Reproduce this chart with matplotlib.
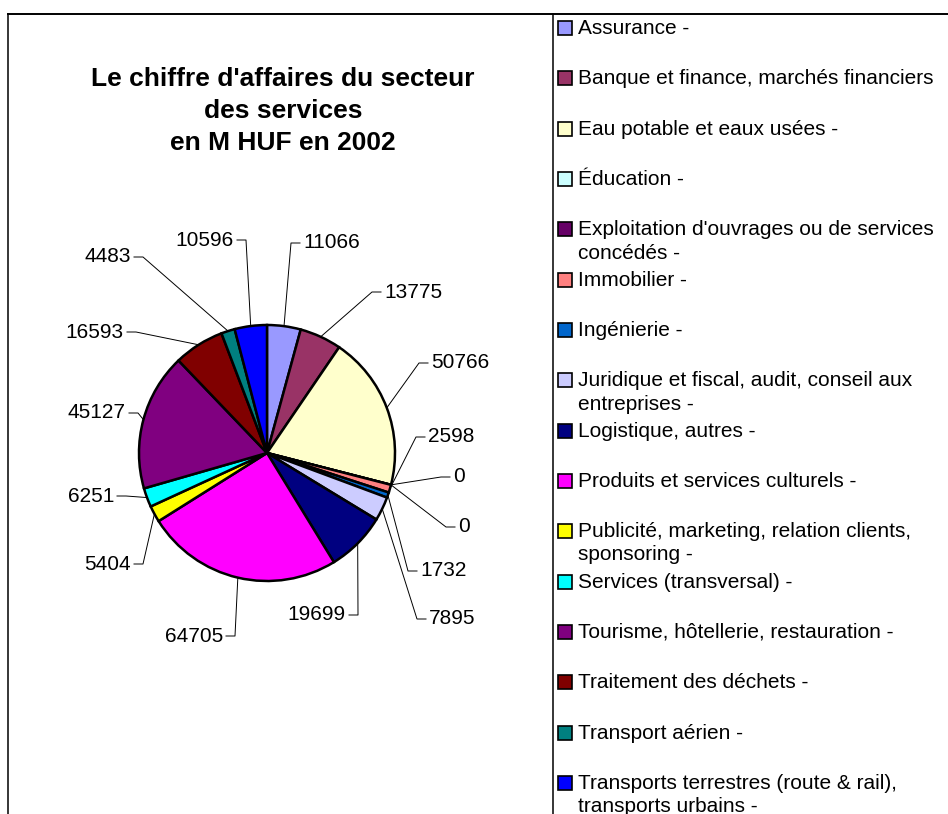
import numpy as np
import matplotlib.pyplot as plt
from matplotlib.patches import Rectangle

# === données ===
categories = [
    "Assurance -",
    "Banque et finance, marchés financiers",
    "Eau potable et eaux usées -",
    "Éducation -",
    "Exploitation d'ouvrages ou de services\nconcédés -",
    "Immobilier -",
    "Ingénierie -",
    "Juridique et fiscal, audit, conseil aux\nentreprises -",
    "Logistique, autres -",
    "Produits et services culturels -",
    "Publicité, marketing, relation clients,\nsponsoring -",
    "Services (transversal) -",
    "Tourisme, hôtellerie, restauration -",
    "Traitement des déchets -",
    "Transport aérien -",
    "Transports terrestres (route & rail),\ntransports urbains -",
]
values = [11066, 13775, 50766, 0, 0, 2598, 1732, 7895,
          19699, 64705, 5404, 6251, 45127, 16593, 4483, 10596]
colors = ["#9999FF", "#993366", "#FFFFCC", "#CCFFFF", "#660066", "#FF8080",
          "#0066CC", "#CCCCFF", "#000080", "#FF00FF", "#FFFF00", "#00FFFF",
          "#800080", "#800000", "#008080", "#0000FF"]
title = "Le chiffre d'affaires du secteur\ndes services\nen M HUF en 2002"

# position des étiquettes (pixels) : x du bord du texte, y, côté
label_pos = [(303, 243, "l"), (384, 292, "l"), (431, 363, "l"), (453, 477, "l"),
             (458, 527, "l"), (428, 437, "l"), (420, 571, "l"), (429, 619, "l"),
             (346, 615, "r"), (223, 636, "r"), (131, 564, "r"), (114, 496, "r"),
             (126, 413, "r"), (124, 332, "r"), (131, 257, "r"), (234, 240, "r")]

W, H = 948, 814
cx, cy, R = 267, 453, 128

plt.rcParams['font.family'] = ['Liberation Sans', 'DejaVu Sans']
fig = plt.figure(figsize=(W / 100, H / 100), dpi=100)

# === camembert ===
half = 150
pax = fig.add_axes([(cx - half) / W, (H - cy - half) / H, 2 * half / W, 2 * half / H])
pax.pie(values, colors=colors, startangle=90, counterclock=False, radius=1,
        wedgeprops=dict(edgecolor="black", linewidth=1.8))
pax.set_xlim(-half / R, half / R)
pax.set_ylim(-half / R, half / R)
pax.axis("off")

# === calque en pixels ===
ov = fig.add_axes([0, 0, 1, 1], zorder=3)
ov.set_xlim(0, W)
ov.set_ylim(H, 0)
ov.axis("off")

# cadre
ov.plot([8, W], [14, 14], color="black", lw=1.4)
ov.plot([8, 8], [14, H], color="black", lw=1.1)
ov.plot([553, 553], [14, H], color="black", lw=1.1)

ov.text(283, 111, title, ha="center", va="center", fontsize=19,
        fontweight="bold", linespacing=1.42)

# étiquettes avec lignes de rappel
total = sum(values)
cum = np.cumsum([0] + values[:-1])
for v, c0, (tx, ty, side) in zip(values, cum, label_pos):
    th = np.radians((c0 + v / 2) / total * 360)
    ax_, ay_ = cx + R * np.sin(th), cy - R * np.cos(th)
    if side == "l":
        ov.plot([ax_, tx - 12, tx - 3], [ay_, ty, ty], color="black", lw=0.7)
        ov.text(tx, ty, str(v), ha="left", va="center", fontsize=15)
    else:
        ov.plot([ax_, tx + 12, tx + 3], [ay_, ty, ty], color="black", lw=0.7)
        ov.text(tx, ty, str(v), ha="right", va="center", fontsize=15)

# légende
for i, (cat, col) in enumerate(zip(categories, colors)):
    y = 28 + 50.33 * i
    ov.add_patch(Rectangle((558, y - 7), 14, 14, facecolor=col,
                           edgecolor="black", lw=1.2))
    ov.text(578, y - 9, cat, ha="left", va="top", fontsize=15, linespacing=1.28)

fig.savefig("out.png", dpi=100)
